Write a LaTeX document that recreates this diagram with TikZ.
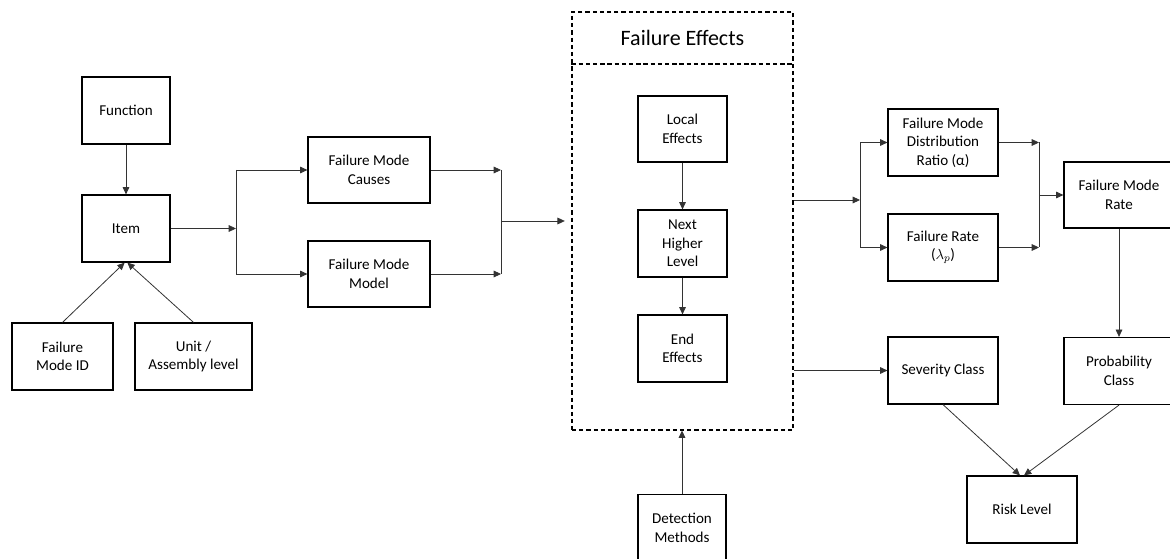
\documentclass[tikz,border=0pt]{standalone}
\usepackage{fontspec}
\setmainfont{Carlito}
\usetikzlibrary{arrows.meta}

\begin{document}
\begin{tikzpicture}[x=0.75pt,y=-0.75pt,
    blk/.style={draw, line width=0.9pt, align=center, inner sep=0pt,
      minimum width=66pt, minimum height=50.25pt,
      font=\fontsize{11.3}{13.8}\selectfont},
    arr/.style={-{Triangle[length=5.5pt,width=5pt]}, line width=0.6pt, black!80},
    ln/.style={line width=0.6pt, black!80},
    dsh/.style={draw, line width=0.8pt, dash pattern=on 3.2pt off 2.2pt}]
        \useasboundingbox (0,0) rectangle (1170,559);

        % Left part
        \node[blk] (fn) at (126,110.5) {Function};
        \node[blk] (item) at (126,228.5) {Item};
        \node[blk, minimum width=75.75pt] (fmid) at (62.5,356.5) {Failure\\Mode ID};
        \node[blk, minimum width=87.75pt] (unit) at (193.5,356.5) {Unit /\\Assembly level};
        \node[blk, minimum width=91.5pt, minimum height=49.5pt] (causes) at (369,170) {Failure Mode\\Causes};
        \node[blk, minimum width=91.5pt, minimum height=49.5pt] (model) at (369,274) {Failure Mode\\Model};

        \draw[arr] (fn) -- (item);
        \draw[arr] (fmid.north) -- ([xshift=-1pt]item.south);
        \draw[arr] (unit.north) -- ([xshift=1pt]item.south);

        \coordinate (fork1) at (236,228.5);
        \coordinate (join1) at (501,221);
        \draw[arr] (item.east) -- (fork1);
        \draw[ln] (fork1 |- causes.west) -- (fork1 |- model.west);
        \draw[arr] (fork1 |- causes.west) -- (causes.west);
        \draw[arr] (fork1 |- model.west) -- (model.west);
        \draw[arr] (causes.east) -- (join1 |- causes.east);
        \draw[arr] (model.east) -- (join1 |- model.east);
        \draw[ln] (join1 |- causes.east) -- (join1 |- model.east);

        % Failure effects frame
        \node[dsh, minimum width=165.75pt, minimum height=313.5pt, inner sep=0pt] (frame) at (682.5,221) {};
        \coordinate (div) at (682.5,64);
        \draw[line width=0.8pt, dash pattern=on 3.2pt off 2.2pt] (frame.west |- div) -- (frame.east |- div);
        \node[font=\fontsize{16.5}{19}\selectfont] (title) at (682.5,38) {Failure Effects};

        \node[blk, minimum width=66.75pt, minimum height=49.5pt] (local) at (682.5,129) {Local\\Effects};
        \node[blk, minimum width=66.75pt] (next) at (682.5,243.5) {Next\\Higher\\Level};
        \node[blk, minimum width=66.75pt] (endfx) at (682.5,348.5) {End\\Effects};
        \node[blk] (detect) at (682,528) {Detection\\Methods};

        \draw[arr] (join1) -- ([xshift=-5pt]frame.west);
        \draw[arr] (local) -- (next);
        \draw[arr] (next) -- (endfx);
        \draw[arr] (detect) -- (frame.south -| detect);

        % Right part
        \node[blk, minimum width=82.5pt] (ratio) at (943,142.5) {Failure Mode\\Distribution\\Ratio (α)};
        \node[blk, minimum width=82.5pt] (rate) at (943,247.5) {Failure Rate\\($\lambda_p$)};
        \node[blk, minimum width=82.5pt, minimum height=49.5pt] (fmrate) at (1119,195) {Failure Mode\\Rate};
        \node[blk, minimum width=82.5pt] (sev) at (943,370.5) {Severity Class};
        \node[blk, minimum width=82.5pt] (prob) at (1119,371) {Probability\\Class};
        \node[blk, minimum width=82.5pt] (risk) at (1022,509.5) {Risk Level};

        \coordinate (fork2) at (860,200);
        \coordinate (join2) at (1039,195);
        \draw[arr] (frame.east |- fork2) -- (fork2);
        \draw[ln] (fork2 |- ratio.west) -- (fork2 |- rate.west);
        \draw[arr] (fork2 |- ratio.west) -- (ratio.west);
        \draw[arr] (fork2 |- rate.west) -- (rate.west);
        \draw[arr] (ratio.east) -- (join2 |- ratio.east);
        \draw[arr] (rate.east) -- (join2 |- rate.east);
        \draw[ln] (join2 |- ratio.east) -- (join2 |- rate.east);
        \draw[arr] (join2) -- (fmrate.west);

        \draw[arr] (frame.east |- sev.west) -- (sev.west);
        \draw[arr] (fmrate) -- (prob);
        \draw[arr] (sev.south) -- ([xshift=-1.5pt]risk.north);
        \draw[arr] (prob.south) -- ([xshift=1.5pt]risk.north);
      \end{tikzpicture}
\end{document}
